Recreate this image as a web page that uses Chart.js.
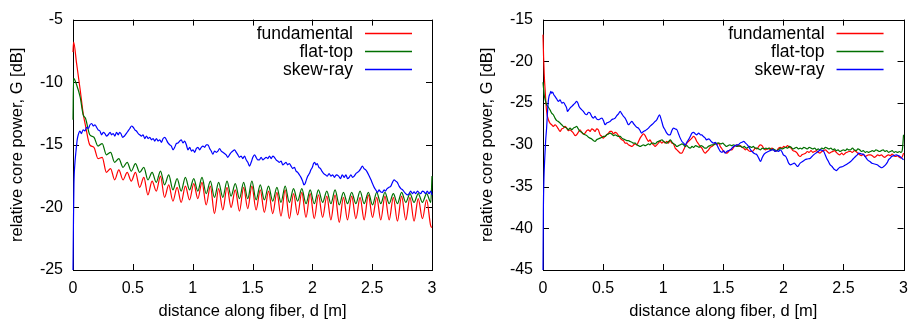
<!doctype html>
<html lang="en">
<head>
<meta charset="UTF-8" />
<title>Relative core power along fiber</title>
<script src="https://cdn.jsdelivr.net/npm/chart.js"></script>
<style>
  html, body { margin: 0; background: #fff; overflow: hidden; }
  canvas { position: absolute; top: 0; }
  #left { left: 0; }
  #right { left: 460px; }
</style>
</head>
<body>
<canvas id="left" width="454" height="320"></canvas>
<canvas id="right" width="457" height="320"></canvas>
<script>
// Series names (legend order)
const names = ['fundamental', 'flat-top', 'skew-ray'];
const colors = ['#ff0000', '#006f00', '#0000ff'];

// ---- Left panel ----
// d [m] positions of the start points and the peaks/troughs of the ripple
const leftRippleD = [
  0, 0.005, 0.03, 0.06, 0.085,
  0.105, 0.140, 0.175, 0.209, 0.244, 0.279, 0.314, 0.348, 0.383, 0.418, 0.453, 0.487, 0.522,
  0.557, 0.592, 0.626, 0.661, 0.696, 0.731, 0.765, 0.800, 0.835, 0.870, 0.904, 0.939, 0.974,
  1.009, 1.043, 1.078, 1.113, 1.148, 1.182, 1.217, 1.252, 1.287, 1.321, 1.356, 1.391, 1.426,
  1.460, 1.495, 1.530, 1.565, 1.599,
  1.634, 1.669, 1.704, 1.738, 1.773, 1.808, 1.843, 1.877, 1.912, 1.947, 1.982, 2.016, 2.051,
  2.086, 2.121, 2.155, 2.190, 2.225, 2.260, 2.294,
  2.329, 2.364, 2.399, 2.433, 2.468, 2.503, 2.538, 2.572, 2.607, 2.642, 2.677, 2.711, 2.746,
  2.781, 2.816, 2.850, 2.885, 2.920, 2.955, 2.990,
  3.0
];
const leftFundamental = [
  -7.6, -6.8, -8.5, -10.6, -12.5,
  -13.5, -15.0, -15.2, -16.1, -16.0, -17.2, -16.9, -17.8, -17.0, -17.8, -17.2, -17.9, -17.2,
  -18.4, -17.6, -19.0, -17.9, -18.7, -17.5, -19.2, -18.2, -19.5, -18.4, -19.6, -18.3, -19.4,
  -18.1, -19.3, -18.0, -19.8, -18.3, -20.5, -18.5, -20.2, -18.4, -20.0, -18.6, -20.3, -18.4,
  -20.1, -18.3, -20.2, -18.6, -20.4,
  -18.7, -20.5, -18.8, -20.7, -18.6, -20.9, -18.9, -20.6, -18.8, -20.8, -18.9, -20.9, -19.0,
  -20.8, -19.1, -21.0, -19.0, -21.2, -19.2, -21.0,
  -19.1, -20.9, -19.2, -21.0, -19.0, -20.8, -19.2, -21.0, -19.1, -21.0, -19.2, -21.1, -19.1,
  -21.0, -19.2, -21.1, -19.3, -20.9, -19.4, -21.5,
  -21.6
];
const leftFlatTop = [
  -13.0, -9.7, -10.2, -11.2, -12.6,
  -12.9, -14.2, -14.4, -15.1, -14.9, -15.8, -15.6, -16.4, -16.1, -16.8, -16.4, -17.1, -16.5,
  -17.2, -16.8, -17.8, -17.2, -18.0, -17.1, -18.2, -17.4, -18.6, -17.7, -18.7, -17.6, -18.6,
  -17.7, -18.7, -17.6, -18.9, -17.9, -19.2, -18.0, -19.2, -17.9, -19.1, -18.1, -19.3, -18.0,
  -19.3, -17.9, -19.4, -18.2, -19.4,
  -18.3, -19.5, -18.4, -19.6, -18.3, -19.6, -18.5, -19.5, -18.5, -19.7, -18.6, -19.7, -18.6,
  -19.6, -18.7, -19.7, -18.6, -19.8, -18.8, -19.7,
  -18.8, -19.7, -18.7, -19.7, -18.8, -19.8, -18.8, -19.7, -18.8, -19.7, -18.9, -19.7, -18.8,
  -19.6, -18.9, -19.6, -18.9, -19.6, -18.9, -19.6,
  -17.5
];
// [d, G] pairs
const leftSkewRay = [
  [0,-25],[0.004,-21],[0.008,-18.1],[0.015,-16.6],[0.025,-15.5],[0.035,-14.6],[0.044,-14.2],
  [0.058,-13.9],[0.07,-14.1],[0.085,-13.8],[0.1,-13.9],[0.114,-13.6],[0.128,-13.7],[0.142,-13.4],
  [0.156,-13.3],[0.17,-13.5],[0.183,-13.4],[0.197,-13.6],[0.21,-13.8],[0.225,-13.9],[0.239,-14.2],
  [0.253,-14.0],[0.267,-14.1],[0.28,-14.3],[0.294,-14.2],[0.31,-14.0],[0.322,-14.2],[0.336,-14.1],
  [0.35,-14.3],[0.364,-14.0],[0.378,-14.2],[0.39,-14.0],[0.4,-14.1],[0.415,-14.4],[0.43,-14.3],
  [0.445,-14.1],[0.46,-13.9],[0.475,-13.7],[0.489,-13.5],[0.503,-13.6],[0.517,-13.8],[0.53,-13.9],
  [0.545,-14.1],[0.558,-14.2],[0.572,-14.3],[0.585,-14.2],[0.6,-14.5],[0.614,-14.3],[0.628,-14.5],
  [0.642,-14.4],[0.656,-14.6],[0.67,-14.5],[0.683,-14.7],[0.697,-14.5],[0.711,-14.7],[0.725,-14.6],
  [0.739,-14.8],[0.753,-14.5],[0.767,-14.4],[0.78,-14.6],[0.794,-14.85],[0.808,-15.0],[0.822,-15.1],
  [0.836,-15.4],[0.85,-15.2],[0.864,-14.9],[0.878,-14.85],[0.892,-14.7],[0.905,-14.6],[0.919,-14.85],
  [0.933,-14.7],[0.947,-15.0],[0.961,-15.4],[0.975,-15.2],[0.99,-15.5],[1.003,-15.4],[1.017,-15.6],
  [1.03,-15.3],[1.044,-15.2],[1.058,-15.4],[1.072,-15.2],[1.086,-15.1],[1.1,-15.2],[1.114,-15.0],
  [1.128,-15.0],[1.142,-15.3],[1.155,-15.5],[1.169,-15.75],[1.183,-15.5],[1.197,-15.6],[1.211,-15.5],
  [1.225,-15.3],[1.239,-15.5],[1.253,-15.6],[1.267,-15.7],[1.28,-15.8],[1.294,-16.0],[1.308,-15.8],
  [1.322,-15.6],[1.336,-15.5],[1.35,-15.4],[1.364,-15.6],[1.378,-15.8],[1.39,-16.0],[1.405,-15.9],
  [1.419,-16.1],[1.433,-15.9],[1.447,-16.2],[1.461,-16.4],[1.475,-16.7],[1.489,-16.4],[1.503,-16.0],
  [1.517,-15.8],[1.53,-16.0],[1.544,-16.2],[1.558,-16.2],[1.572,-16.0],[1.586,-16.2],[1.6,-16.1],
  [1.614,-16.0],[1.628,-16.1],[1.642,-15.9],[1.656,-16.1],[1.67,-15.9],[1.683,-16.0],[1.697,-16.2],
  [1.711,-16.3],[1.725,-16.4],[1.739,-16.3],[1.753,-16.6],[1.767,-16.5],[1.78,-16.4],[1.794,-16.6],
  [1.808,-16.5],[1.822,-16.7],[1.836,-16.9],[1.85,-16.8],[1.864,-17.1],[1.878,-17.2],[1.892,-17.4],
  [1.905,-17.6],[1.919,-17.9],[1.93,-18.2],[1.94,-18.1],[1.95,-17.8],[1.962,-17.5],[1.975,-17.3],
  [1.988,-17.0],[2.0,-16.8],[2.01,-16.5],[2.02,-16.4],[2.03,-16.6],[2.04,-16.5],[2.055,-16.8],
  [2.068,-16.9],[2.08,-17.1],[2.095,-17.3],[2.11,-17.4],[2.125,-17.5],[2.14,-17.3],[2.155,-17.5],
  [2.17,-17.4],[2.185,-17.6],[2.2,-17.4],[2.22,-17.5],[2.235,-17.7],[2.25,-17.4],[2.267,-17.6],
  [2.28,-17.4],[2.295,-17.7],[2.308,-17.6],[2.322,-17.4],[2.336,-17.6],[2.35,-17.5],[2.364,-17.3],
  [2.378,-17.2],[2.39,-17.1],[2.405,-16.9],[2.418,-16.7],[2.432,-16.9],[2.446,-17.0],[2.46,-17.2],
  [2.475,-17.5],[2.49,-17.8],[2.503,-18.1],[2.517,-18.4],[2.53,-18.6],[2.545,-18.8],[2.557,-18.6],
  [2.57,-18.75],[2.585,-18.8],[2.6,-18.6],[2.61,-18.7],[2.625,-18.5],[2.64,-18.4],[2.656,-18.3],
  [2.67,-18.0],[2.683,-17.8],[2.697,-17.9],[2.71,-18.0],[2.725,-18.3],[2.74,-18.5],[2.755,-18.6],
  [2.767,-18.75],[2.78,-18.9],[2.795,-19.0],[2.808,-18.9],[2.822,-18.7],[2.836,-18.9],[2.85,-18.75],
  [2.864,-18.9],[2.878,-18.7],[2.89,-18.8],[2.905,-18.9],[2.92,-18.7],[2.933,-18.75],[2.947,-18.9],
  [2.96,-18.7],[2.975,-18.9],[2.99,-18.7],[3.0,-19.0]
];

// ---- Right panel ----
const rightFundamental = [
  [0,-16.8],[0.005,-19.5],[0.01,-21.5],[0.017,-23.3],[0.03,-26.0],[0.045,-27.0],[0.058,-27.4],
  [0.072,-27.6],[0.086,-27.8],[0.1,-27.6],[0.114,-27.8],[0.128,-28.1],[0.142,-28.4],[0.156,-28.1],
  [0.17,-28.0],[0.183,-27.8],[0.197,-28.0],[0.21,-28.3],[0.225,-28.2],[0.24,-28.4],[0.253,-28.6],
  [0.267,-28.9],[0.28,-28.8],[0.294,-28.5],[0.308,-28.2],[0.322,-28.5],[0.336,-28.7],[0.35,-28.6],
  [0.364,-28.3],[0.378,-28.2],[0.392,-28.4],[0.405,-28.1],[0.42,-28.2],[0.433,-28.4],[0.446,-28.1],
  [0.46,-28.2],[0.475,-28.8],[0.49,-29.0],[0.5,-29.2],[0.515,-29.0],[0.53,-28.8],[0.545,-28.6],
  [0.558,-28.4],[0.572,-28.4],[0.586,-28.7],[0.6,-28.5],[0.614,-28.6],[0.628,-28.9],[0.642,-29.2],
  [0.656,-29.4],[0.67,-29.5],[0.683,-29.8],[0.697,-29.8],[0.71,-30.0],[0.725,-30.1],[0.74,-30.2],
  [0.755,-30.0],[0.767,-29.9],[0.78,-30.0],[0.795,-29.6],[0.808,-29.2],[0.822,-28.9],[0.836,-28.7],
  [0.85,-28.9],[0.864,-29.3],[0.878,-29.6],[0.89,-29.4],[0.905,-29.8],[0.92,-30.0],[0.933,-30.2],
  [0.947,-30.0],[0.96,-29.8],[0.975,-29.6],[0.99,-29.8],[1.003,-29.6],[1.017,-29.8],[1.03,-29.6],
  [1.044,-29.8],[1.058,-29.5],[1.072,-29.8],[1.086,-29.9],[1.1,-30.4],[1.114,-30.6],[1.128,-30.8],
  [1.142,-31.0],[1.156,-31.0],[1.17,-30.6],[1.183,-30.2],[1.197,-29.8],[1.21,-29.6],[1.225,-29.4],
  [1.239,-29.2],[1.253,-29.0],[1.267,-29.2],[1.28,-29.6],[1.294,-29.9],[1.308,-30.2],[1.322,-30.4],
  [1.336,-30.8],[1.35,-31.0],[1.364,-30.8],[1.378,-30.6],[1.392,-30.3],[1.405,-30.2],[1.42,-30.0],
  [1.433,-29.8],[1.446,-30.0],[1.46,-29.8],[1.475,-30.2],[1.49,-30.5],[1.503,-30.8],[1.517,-30.9],
  [1.53,-31.0],[1.545,-30.8],[1.558,-30.6],[1.572,-30.6],[1.586,-30.3],[1.6,-30.1],[1.614,-30.0],
  [1.628,-30.2],[1.642,-30.1],[1.656,-30.3],[1.67,-30.4],[1.683,-30.6],[1.697,-30.5],[1.71,-30.7],
  [1.725,-30.8],[1.74,-30.8],[1.755,-30.6],[1.767,-30.4],[1.78,-30.5],[1.795,-30.2],[1.808,-30.0],
  [1.822,-30.1],[1.836,-30.4],[1.85,-30.6],[1.864,-30.5],[1.878,-30.4],[1.89,-30.6],[1.905,-30.4],
  [1.92,-30.6],[1.933,-30.8],[1.947,-30.7],[1.96,-30.4],[1.975,-30.3],[1.99,-30.4],[2.003,-30.2],
  [2.02,-30.3],[2.035,-30.1],[2.05,-30.3],[2.065,-30.4],[2.08,-30.7],[2.1,-30.8],[2.115,-31.0],
  [2.128,-31.3],[2.14,-31.4],[2.155,-31.2],[2.17,-31.1],[2.185,-31.0],[2.2,-30.8],[2.215,-30.9],
  [2.23,-30.7],[2.245,-30.9],[2.26,-30.8],[2.275,-30.7],[2.29,-30.9],[2.305,-31.0],[2.32,-30.8],
  [2.335,-30.7],[2.35,-30.6],[2.365,-30.8],[2.38,-31.0],[2.395,-30.9],[2.41,-30.8],[2.425,-30.7],
  [2.44,-30.9],[2.455,-31.1],[2.47,-31.2],[2.485,-31.0],[2.5,-31.2],[2.515,-31.0],[2.53,-30.9],
  [2.545,-30.8],[2.56,-30.8],[2.575,-30.9],[2.59,-30.7],[2.605,-30.8],[2.62,-31.0],[2.635,-31.2],
  [2.65,-31.3],[2.665,-31.1],[2.68,-31.4],[2.695,-31.3],[2.71,-31.2],[2.725,-31.2],[2.74,-31.3],
  [2.755,-31.5],[2.77,-31.4],[2.785,-31.2],[2.8,-31.3],[2.815,-31.2],[2.83,-31.4],[2.845,-31.5],
  [2.86,-31.3],[2.875,-31.2],[2.89,-31.3],[2.905,-31.1],[2.92,-31.3],[2.935,-31.4],[2.95,-31.3],
  [2.965,-31.5],[2.98,-31.6],[2.99,-31.4],[3.0,-31.0]
];
const rightFlatTop = [
  [0,-22.5],[0.01,-24.0],[0.02,-24.7],[0.03,-25.2],[0.045,-25.5],[0.058,-25.8],[0.072,-26.2],
  [0.086,-26.4],[0.1,-26.8],[0.114,-27.1],[0.128,-27.2],[0.142,-27.4],[0.156,-27.6],[0.17,-27.8],
  [0.183,-27.9],[0.197,-28.0],[0.21,-28.2],[0.225,-28.0],[0.24,-28.2],[0.253,-28.0],[0.267,-27.9],
  [0.28,-27.8],[0.294,-28.1],[0.308,-28.4],[0.322,-28.5],[0.336,-28.7],[0.35,-28.8],[0.364,-28.9],
  [0.378,-29.1],[0.392,-29.2],[0.405,-29.3],[0.42,-29.5],[0.433,-29.6],[0.446,-29.4],[0.46,-29.3],
  [0.475,-29.2],[0.49,-29.1],[0.503,-29.0],[0.517,-29.0],[0.53,-28.8],[0.545,-28.7],[0.558,-28.6],
  [0.572,-28.7],[0.586,-28.9],[0.6,-28.8],[0.614,-28.9],[0.628,-29.0],[0.642,-29.0],[0.656,-29.2],
  [0.67,-29.3],[0.683,-29.4],[0.697,-29.5],[0.71,-29.5],[0.725,-29.6],[0.74,-29.7],[0.755,-29.8],
  [0.767,-29.8],[0.78,-30.0],[0.795,-30.1],[0.808,-30.2],[0.822,-30.1],[0.836,-30.0],[0.85,-30.1],
  [0.864,-30.0],[0.878,-29.9],[0.89,-30.0],[0.905,-29.8],[0.92,-29.8],[0.933,-29.9],[0.947,-29.7],
  [0.96,-29.6],[0.975,-29.5],[0.99,-29.4],[1.003,-29.6],[1.017,-29.7],[1.03,-29.8],[1.045,-29.6],
  [1.06,-29.4],[1.075,-29.7],[1.09,-29.9],[1.1,-30.0],[1.114,-30.2],[1.128,-30.1],[1.142,-30.0],
  [1.156,-29.9],[1.17,-30.0],[1.183,-30.2],[1.197,-30.1],[1.21,-30.3],[1.225,-30.4],[1.24,-30.2],
  [1.255,-30.3],[1.27,-30.1],[1.285,-30.2],[1.3,-30.3],[1.315,-30.1],[1.33,-30.2],[1.345,-30.4],
  [1.36,-30.4],[1.375,-30.2],[1.39,-30.1],[1.405,-30.0],[1.42,-30.0],[1.435,-29.9],[1.45,-29.8],
  [1.465,-29.8],[1.48,-29.9],[1.495,-29.8],[1.51,-30.0],[1.525,-30.2],[1.54,-30.1],[1.555,-30.0],
  [1.57,-30.1],[1.585,-30.0],[1.6,-30.1],[1.615,-30.2],[1.63,-30.1],[1.645,-30.2],[1.66,-30.3],
  [1.675,-30.2],[1.69,-30.4],[1.705,-30.3],[1.72,-30.2],[1.735,-30.3],[1.75,-30.2],[1.765,-30.4],
  [1.78,-30.4],[1.795,-30.5],[1.81,-30.6],[1.825,-30.4],[1.84,-30.5],[1.855,-30.4],[1.87,-30.5],
  [1.885,-30.4],[1.9,-30.6],[1.915,-30.5],[1.93,-30.6],[1.945,-30.7],[1.96,-30.6],[1.975,-30.4],
  [1.99,-30.5],[2.005,-30.4],[2.02,-30.3],[2.035,-30.4],[2.05,-30.2],[2.065,-30.3],[2.08,-30.5],
  [2.095,-30.4],[2.11,-30.3],[2.125,-30.5],[2.14,-30.4],[2.155,-30.5],[2.17,-30.3],[2.185,-30.4],
  [2.2,-30.5],[2.215,-30.3],[2.23,-30.4],[2.245,-30.5],[2.26,-30.4],[2.275,-30.6],[2.29,-30.5],
  [2.305,-30.6],[2.32,-30.4],[2.335,-30.5],[2.35,-30.3],[2.365,-30.4],[2.38,-30.5],[2.395,-30.4],
  [2.41,-30.6],[2.425,-30.5],[2.44,-30.7],[2.455,-30.6],[2.47,-30.8],[2.485,-30.7],[2.5,-30.6],
  [2.515,-30.7],[2.53,-30.5],[2.545,-30.6],[2.56,-30.6],[2.575,-30.4],[2.59,-30.6],[2.605,-30.7],
  [2.62,-30.5],[2.635,-30.6],[2.65,-30.8],[2.665,-30.7],[2.68,-30.9],[2.695,-30.8],[2.71,-30.9],
  [2.725,-30.8],[2.74,-30.7],[2.755,-30.8],[2.77,-30.6],[2.785,-30.7],[2.8,-30.8],[2.815,-30.7],
  [2.83,-30.6],[2.845,-30.8],[2.86,-30.7],[2.875,-30.9],[2.89,-30.8],[2.905,-30.7],[2.92,-30.9],
  [2.935,-30.8],[2.95,-30.9],[2.965,-30.8],[2.98,-30.9],[2.99,-30.6],[3.0,-28.8]
];
const rightSkewRay = [
  [0,-45],[0.003,-38],[0.008,-34],[0.015,-31.5],[0.022,-29.5],[0.03,-28.0],[0.037,-26.2],
  [0.044,-24.8],[0.05,-24.2],[0.058,-23.9],[0.065,-23.6],[0.072,-23.8],[0.08,-23.7],[0.09,-24.0],
  [0.1,-24.2],[0.114,-24.5],[0.128,-24.8],[0.142,-24.6],[0.156,-25.0],[0.17,-24.9],[0.183,-25.2],
  [0.197,-25.6],[0.203,-26.0],[0.215,-25.8],[0.225,-25.6],[0.24,-25.4],[0.253,-25.2],[0.267,-25.0],
  [0.28,-24.8],[0.29,-25.0],[0.3,-25.4],[0.315,-25.7],[0.336,-26.0],[0.35,-26.3],[0.364,-26.4],
  [0.378,-26.1],[0.392,-26.2],[0.405,-26.6],[0.42,-26.8],[0.433,-26.6],[0.446,-26.9],[0.46,-27.0],
  [0.475,-26.9],[0.49,-26.8],[0.503,-27.1],[0.517,-27.6],[0.53,-27.4],[0.545,-27.3],[0.558,-27.2],
  [0.572,-27.0],[0.586,-26.9],[0.6,-26.8],[0.614,-26.5],[0.628,-26.3],[0.642,-26.0],[0.656,-26.3],
  [0.67,-26.6],[0.683,-26.8],[0.697,-27.2],[0.71,-27.6],[0.725,-27.4],[0.74,-27.2],[0.755,-27.5],
  [0.767,-27.7],[0.78,-27.9],[0.794,-28.0],[0.808,-28.3],[0.82,-28.6],[0.836,-28.4],[0.85,-28.3],
  [0.86,-28.2],[0.878,-28.0],[0.89,-27.8],[0.905,-27.6],[0.92,-27.4],[0.933,-27.2],[0.947,-27.0],
  [0.96,-26.6],[0.97,-26.4],[0.98,-26.8],[0.99,-27.3],[1.0,-27.8],[1.015,-28.2],[1.03,-28.6],
  [1.045,-28.8],[1.058,-28.8],[1.072,-28.3],[1.086,-28.0],[1.1,-28.1],[1.114,-28.2],[1.128,-28.7],
  [1.142,-29.2],[1.156,-29.6],[1.17,-29.8],[1.183,-30.0],[1.197,-29.7],[1.21,-29.4],[1.225,-29.0],
  [1.239,-28.6],[1.253,-28.5],[1.267,-28.7],[1.28,-28.8],[1.295,-28.6],[1.31,-28.8],[1.32,-28.8],
  [1.335,-29.0],[1.35,-29.2],[1.36,-29.4],[1.38,-29.3],[1.4,-29.6],[1.42,-29.8],[1.433,-29.7],
  [1.447,-30.0],[1.46,-30.4],[1.475,-30.8],[1.49,-30.9],[1.503,-30.7],[1.517,-31.0],[1.53,-30.8],
  [1.545,-30.7],[1.56,-30.6],[1.572,-30.4],[1.586,-30.2],[1.6,-30.1],[1.612,-30.0],[1.625,-30.0],
  [1.64,-29.8],[1.655,-29.7],[1.67,-29.6],[1.685,-29.8],[1.7,-30.0],[1.715,-30.3],[1.727,-30.6],
  [1.74,-30.8],[1.755,-31.0],[1.768,-31.1],[1.78,-31.2],[1.795,-31.6],[1.81,-32.0],[1.822,-31.6],
  [1.836,-31.2],[1.85,-31.0],[1.862,-30.9],[1.875,-30.8],[1.89,-30.7],[1.903,-30.6],[1.917,-30.6],
  [1.93,-30.8],[1.945,-30.7],[1.96,-30.8],[1.975,-30.6],[1.99,-30.9],[2.0,-31.2],[2.02,-31.4],
  [2.033,-31.8],[2.044,-32.2],[2.06,-32.4],[2.075,-32.3],[2.09,-32.2],[2.105,-32.4],[2.12,-32.6],
  [2.13,-32.4],[2.14,-32.2],[2.16,-32.0],[2.18,-31.8],[2.2,-31.7],[2.225,-31.6],[2.245,-31.3],
  [2.27,-31.0],[2.29,-30.8],[2.31,-30.6],[2.325,-30.7],[2.336,-30.8],[2.348,-31.2],[2.36,-31.6],
  [2.375,-32.0],[2.39,-32.4],[2.405,-32.6],[2.42,-32.9],[2.43,-33.0],[2.44,-33.1],[2.455,-32.9],
  [2.47,-32.7],[2.495,-32.6],[2.52,-32.4],[2.54,-32.2],[2.56,-32.0],[2.58,-31.7],[2.6,-31.4],
  [2.615,-31.2],[2.627,-31.0],[2.65,-31.1],[2.67,-31.2],[2.685,-31.5],[2.7,-31.8],[2.72,-32.0],
  [2.737,-32.2],[2.76,-32.3],[2.78,-32.4],[2.8,-32.6],[2.82,-32.75],[2.835,-32.6],[2.85,-32.4],
  [2.865,-32.1],[2.875,-31.8],[2.89,-31.6],[2.9,-31.4],[2.92,-31.3],[2.94,-31.2],[2.955,-31.3],
  [2.97,-31.4],[2.985,-31.6],[3.0,-31.8]
];

// Axis ranges and labels
const xTitle = 'distance along fiber, d [m]';
const yTitle = 'relative core power, G [dB]';
const leftYRange = [-25, -5];
const rightYRange = [-45, -15];

const FONT = '"Liberation Sans", Arial, Helvetica, sans-serif';
const TICK = 6;

// gnuplot-like frame with inward ticks on all four sides
const framePlugin = {
  id: 'frame',
  beforeDatasetsDraw(chart) {
    const { ctx, chartArea: a, scales } = chart;
    ctx.save();
    ctx.strokeStyle = '#000';
    ctx.lineWidth = 1;
    ctx.beginPath();
    for (const t of scales.x.ticks) {
      const px = Math.round(scales.x.getPixelForValue(t.value)) + 0.5;
      ctx.moveTo(px, a.bottom); ctx.lineTo(px, a.bottom - TICK);
      ctx.moveTo(px, a.top); ctx.lineTo(px, a.top + TICK);
    }
    for (const t of scales.y.ticks) {
      const py = Math.round(scales.y.getPixelForValue(t.value)) + 0.5;
      ctx.moveTo(a.left, py); ctx.lineTo(a.left + TICK, py);
      ctx.moveTo(a.right, py); ctx.lineTo(a.right - TICK, py);
    }
    ctx.stroke();
    ctx.strokeRect(Math.round(a.left) + 0.5, Math.round(a.top) + 0.5,
      Math.round(a.right - a.left), Math.round(a.bottom - a.top));
    ctx.restore();
  },
  afterDatasetsDraw(chart) {
    // key in the top right corner: text right-aligned, sample line on the right
    const { ctx, chartArea: a } = chart;
    ctx.save();
    ctx.font = '17.5px ' + FONT;
    ctx.textAlign = 'right';
    ctx.textBaseline = 'middle';
    names.forEach((name, i) => {
      const y = Math.round(a.top + 13 + i * 18) + 0.5;
      ctx.fillStyle = '#000';
      ctx.fillText(name, a.right - 79, y + 1);
      ctx.strokeStyle = colors[i];
      ctx.lineWidth = 1.3;
      ctx.beginPath();
      ctx.moveTo(a.right - 67, y);
      ctx.lineTo(a.right - 20, y);
      ctx.stroke();
    });
    ctx.restore();
  }
};

function toPoints(pairs) {
  return pairs.map(p => ({ x: p[0], y: p[1] }));
}

function makeChart(id, series, yRange, yAxisWidth, padRight, yTitlePad) {
  return new Chart(document.getElementById(id), {
    type: 'line',
    data: {
      datasets: series.map((s, i) => ({
        label: names[i],
        data: s,
        borderColor: colors[i],
        borderWidth: 1.2,
        pointRadius: 0,
        fill: false,
        clip: 1,
        cubicInterpolationMode: 'monotone',
        order: 2 - i,
      })),
    },
    options: {
      responsive: false,
      animation: false,
      events: [],
      layout: { padding: { top: 17, right: padRight, bottom: 0, left: 0 } },
      plugins: { legend: { display: false }, tooltip: { enabled: false } },
      scales: {
        x: {
          type: 'linear',
          min: 0,
          max: 3,
          grid: { display: false, drawTicks: false },
          border: { display: false },
          ticks: { stepSize: 0.5, padding: 9, color: '#000', maxRotation: 0,
                   font: { family: FONT, size: 16 },
                   callback: v => String(Math.round(v * 10) / 10) },
          title: { display: true, text: xTitle, color: '#000',
                   font: { family: FONT, size: 16.5, lineHeight: 1 }, padding: 0 },
          afterFit(scale) { scale.height = 50; },
        },
        y: {
          min: yRange[0],
          max: yRange[1],
          grid: { display: false, drawTicks: false },
          border: { display: false },
          ticks: { stepSize: 5, padding: 10, color: '#000',
                   font: { family: FONT, size: 16 } },
          title: { display: true, text: yTitle, color: '#000',
                   font: { family: FONT, size: 16.5, lineHeight: 1.2 },
                   padding: { top: yTitlePad, bottom: 0 } },
          afterFit(scale) { scale.width = yAxisWidth; },
        },
      },
    },
    plugins: [framePlugin],
  });
}

const leftData = [
  leftRippleD.map((d, i) => ({ x: d, y: leftFundamental[i] })),
  leftRippleD.map((d, i) => ({ x: d, y: leftFlatTop[i] })),
  toPoints(leftSkewRay),
];
const rightData = [toPoints(rightFundamental), toPoints(rightFlatTop), toPoints(rightSkewRay)];

makeChart('left', leftData, leftYRange, 73, 22, 8);
makeChart('right', rightData, rightYRange, 83, 6, 18);
</script>
</body>
</html>
